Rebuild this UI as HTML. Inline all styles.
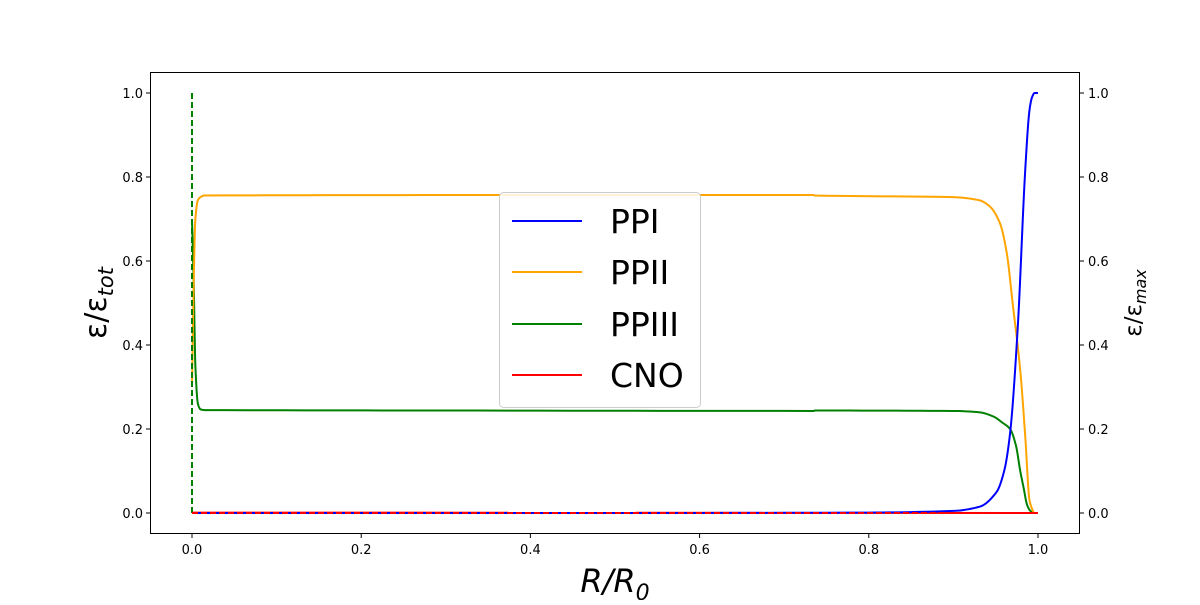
<!DOCTYPE html>
<html><head><meta charset="utf-8"><style>
html,body{margin:0;padding:0;background:#fff;}
svg text{font-family:"DejaVu Sans","Liberation Sans",sans-serif;}
</style></head><body>
<svg id="chart" width="1200" height="600" viewBox="0 0 1200 600" xmlns="http://www.w3.org/2000/svg">
<rect x="0" y="0" width="1200" height="600" fill="#fff"/>
<g id="marks"></g>
<rect x="150.5" y="72.5" width="929" height="461" fill="none" stroke="#000" stroke-width="1"/>
<g id="ticks" font-size="13" fill="#000"></g>
<text x="615" y="592" font-size="32" text-anchor="middle" font-style="italic">R/R<tspan font-size="22" dy="8">0</tspan></text>
<text transform="translate(106,303) rotate(-90)" font-size="30" text-anchor="middle">ε/ε<tspan font-size="21" dy="7" font-style="italic">tot</tspan></text>
<text transform="translate(1141,303) rotate(-90)" font-size="23" text-anchor="middle">ε/ε<tspan font-size="16" dy="5" font-style="italic">max</tspan></text>
<g>
<rect x="499.5" y="192.5" width="201" height="215" rx="4" fill="#fff" fill-opacity="0.85" stroke="#ccc"/>
<line x1="512" y1="221" x2="582" y2="221" stroke="blue" stroke-width="2"/>
<text x="610" y="233" font-size="33">PPI</text>
<line x1="512" y1="272" x2="582" y2="272" stroke="orange" stroke-width="2"/>
<text x="610" y="284" font-size="33">PPII</text>
<line x1="512" y1="324" x2="582" y2="324" stroke="green" stroke-width="2"/>
<text x="610" y="336" font-size="33">PPIII</text>
<line x1="512" y1="375" x2="582" y2="375" stroke="red" stroke-width="2"/>
<text x="610" y="387" font-size="33">CNO</text>
</g>
</svg>
<script>
const xTicks=[0,0.2,0.4,0.6,0.8,1.0];
const yTicks=[0,0.2,0.4,0.6,0.8,1.0];
const ppiR=[0,0.5,0.8,0.9,0.931,0.951,0.96,0.967,0.976,0.985,0.99,0.993,0.996,1.0];
const ppiV=[0,0,0.001,0.005,0.015,0.05,0.1,0.19,0.44,0.82,0.96,0.99,1.0,1.0];
const ppiiR=[0,0.002,0.004,0.007,0.01,0.015,0.3,0.735,0.736,0.9,0.93,0.943,0.955,0.963,0.97,0.979,0.985,0.99,0.995];
const ppiiV=[0.3,0.55,0.7,0.745,0.752,0.756,0.757,0.757,0.756,0.752,0.745,0.73,0.69,0.62,0.5,0.34,0.18,0.03,0];
const ppiiiR=[0,0.002,0.004,0.007,0.01,0.015,0.3,0.735,0.736,0.9,0.93,0.947,0.958,0.967,0.974,0.979,0.983,0.987,0.991,0.995];
const ppiiiV=[0.7,0.55,0.35,0.26,0.247,0.245,0.244,0.243,0.244,0.243,0.24,0.23,0.215,0.2,0.16,0.1,0.06,0.02,0.005,0];
const cnoR=[0,1.0];
const cnoV=[0.001,0];
const markerR=[0,0];
const markerV=[0,1];
const X=v=>192+v*846, Y=v=>513-v*420;
const NS="http://www.w3.org/2000/svg";
const marks=document.getElementById('marks'), ticks=document.getElementById('ticks');
function smooth(xs,ys){
  const n=xs.length; if(n<3) return xs.map((x,i)=>[x,ys[i]]);
  const d=[],m=new Array(n).fill(0);
  for(let i=0;i<n-1;i++) d.push((ys[i+1]-ys[i])/((xs[i+1]-xs[i])||1e-9));
  m[0]=d[0];m[n-1]=d[n-2];
  for(let i=1;i<n-1;i++) m[i]=(d[i-1]*d[i]<=0)?0:(2/(1/d[i-1]+1/d[i]));
  const out=[];
  for(let i=0;i<n-1;i++){
    const h=xs[i+1]-xs[i];
    for(let k=0;k<12;k++){
      const t=k/12,t2=t*t,t3=t2*t;
      const y=(2*t3-3*t2+1)*ys[i]+(t3-2*t2+t)*h*m[i]+(-2*t3+3*t2)*ys[i+1]+(t3-t2)*h*m[i+1];
      out.push([xs[i]+t*h,y]);
    }
  }
  out.push([xs[n-1],ys[n-1]]);
  return out;
}
function line(rs,vs,color,name,dash){
  const pts=dash?rs.map((r,i)=>[r,vs[i]]):smooth(rs,vs);
  const p=document.createElementNS(NS,'path');
  p.setAttribute('d',pts.map((q,i)=>(i?'L':'M')+X(q[0]).toFixed(2)+','+Y(q[1]).toFixed(2)).join(''));
  p.setAttribute('fill','none');p.setAttribute('stroke',color);p.setAttribute('stroke-width','2');
  p.setAttribute('stroke-linejoin','round');
  if(dash)p.setAttribute('stroke-dasharray',dash);
  
  
  marks.appendChild(p);
}
line(cnoR,cnoV,'red','series-cno');
line(ppiiiR,ppiiiV,'green','series-ppiii');
line(ppiiR,ppiiV,'orange','series-ppii');
line(ppiR,ppiV,'blue','series-ppi');
line(markerR,markerV,'green','max-marker-dashed','6,3');
line(cnoR,[0,0],'red','cno-max-dashed','6,3');
xTicks.forEach(t=>{
  const l=document.createElementNS(NS,'line');
  l.setAttribute('x1',X(t));l.setAttribute('x2',X(t));l.setAttribute('y1',534);l.setAttribute('y2',538);l.setAttribute('stroke','#000');
  
  
  ticks.appendChild(l);
  const s=document.createElementNS(NS,'text');
  s.setAttribute('x',X(t));s.setAttribute('y',554);s.setAttribute('text-anchor','middle');s.textContent=t.toFixed(1);
  
  
  ticks.appendChild(s);
});
yTicks.forEach(t=>{
  [[146,150,143,'end','y-tick-left'],[1080,1084,1088,'start','y-tick-right']].forEach(c=>{
    const l=document.createElementNS(NS,'line');
    l.setAttribute('x1',c[0]);l.setAttribute('x2',c[1]);l.setAttribute('y1',Y(t));l.setAttribute('y2',Y(t));l.setAttribute('stroke','#000');
    
    
    ticks.appendChild(l);
    const s=document.createElementNS(NS,'text');
    s.setAttribute('x',c[2]);s.setAttribute('y',Y(t)+5);s.setAttribute('text-anchor',c[3]);s.textContent=t.toFixed(1);
    
    
    ticks.appendChild(s);
  });
});
</script>
</body></html>
